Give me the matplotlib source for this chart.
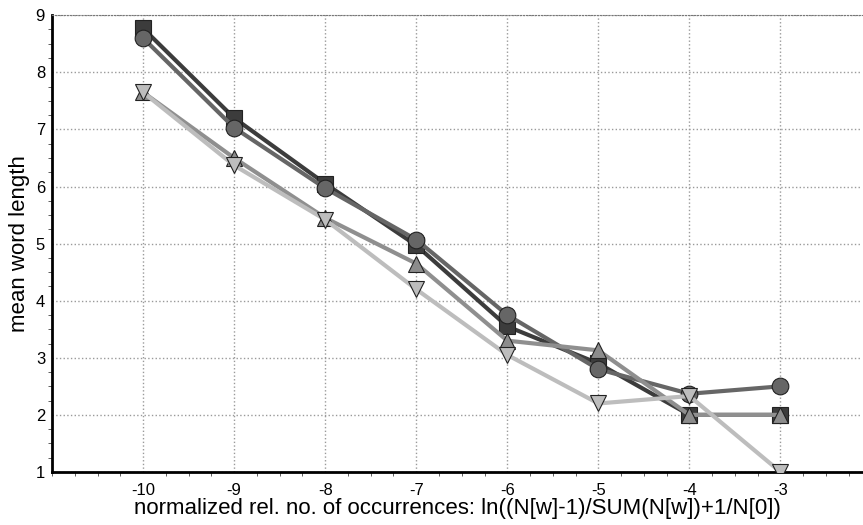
import matplotlib.pyplot as plt
from matplotlib.ticker import MultipleLocator

plt.rcParams['font.family'] = ['Liberation Sans', 'DejaVu Sans']
plt.rcParams['axes.unicode_minus'] = False

x = [-10, -9, -8, -7, -6, -5, -4, -3]
carres = [8.77, 7.2, 6.05, 4.97, 3.55, 2.9, 2.0, 2.0]
cercles = [8.6, 7.03, 5.97, 5.07, 3.75, 2.8, 2.37, 2.5]
tri_haut = [7.65, 6.5, 5.45, 4.65, 3.3, 3.13, 2.0, 2.0]
tri_bas = [7.65, 6.37, 5.42, 4.2, 3.05, 2.2, 2.33, 1.0]

fig = plt.figure(figsize=(8.63, 5.25), dpi=100)
ax = fig.add_axes([0.0603, 0.101, 0.939, 0.870])

# Ordre de tracé : carrés dessous, triangles clairs dessus
series = [
    (carres, 's', '#3c3c3c', '#3c3c3c'),
    (cercles, 'o', '#666666', '#666666'),
    (tri_haut, '^', '#8c8c8c', '#8f8f8f'),
    (tri_bas, 'v', '#bdbdbd', '#bdbdbd'),
]
for i, (vals, m, fill, line) in enumerate(series):
    ax.plot(x, vals, color=line, linewidth=3, marker=m, markersize=12,
            markerfacecolor=fill, markeredgecolor='#222222', markeredgewidth=0.8,
            zorder=3 + i)

ax.set_xlim(-11, -2.1)
ax.set_ylim(1, 9)
ax.set_xticks(x)
ax.set_yticks(range(1, 10))
ax.xaxis.set_minor_locator(MultipleLocator(0.25))
ax.yaxis.set_minor_locator(MultipleLocator(0.25))
ax.tick_params(which='both', direction='out', labelsize=12, color='#444444')
ax.tick_params(which='major', length=0)
ax.tick_params(axis='x', which='major', pad=8)
ax.tick_params(axis='y', which='major', pad=5)
ax.tick_params(which='minor', length=3)

ax.grid(True, which='major', linestyle=':', color='#9a9a9a', linewidth=1)
ax.spines['right'].set_visible(False)
ax.spines['top'].set_color('#777777')
ax.spines['top'].set_linestyle(':')
ax.spines['left'].set_linewidth(2)
ax.spines['bottom'].set_linewidth(2)

ax.set_xlabel('normalized rel. no. of occurrences: ln((N[w]-1)/SUM(N[w])+1/N[0])',
              fontsize=16, labelpad=0)
ax.set_ylabel('mean word length', fontsize=16, labelpad=4)

fig.savefig('out.png', dpi=100)
